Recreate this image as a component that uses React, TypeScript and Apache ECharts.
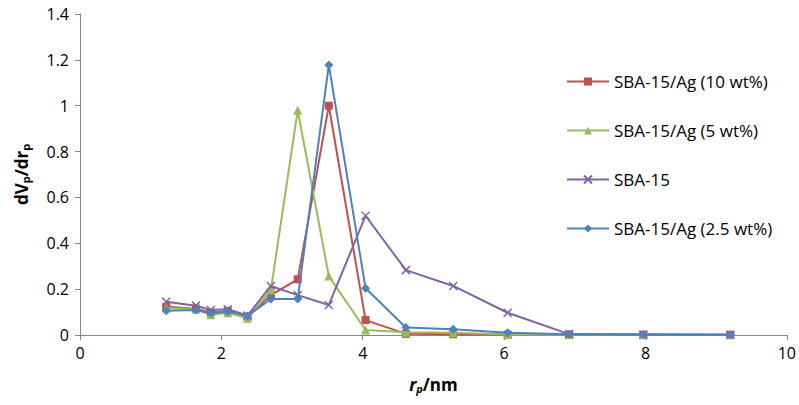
import React, { useEffect, useRef } from "react";
import * as echarts from "echarts";

const rp = [1.22, 1.64, 1.85, 2.09, 2.37, 2.70, 3.08, 3.52, 4.04, 4.61, 5.28, 6.05, 6.92, 7.97, 9.20];
const ag10 = [0.123, 0.115, 0.098, 0.105, 0.080, 0.174, 0.243, 1.0, 0.065, 0.005, 0.003, 0.002, 0.002, 0.001, 0.001];
const ag5 = [0.118, 0.112, 0.088, 0.097, 0.073, 0.196, 0.98, 0.257, 0.022, 0.012, 0.010, 0.002, 0.002, 0.001, 0.001];
const sba15 = [0.145, 0.128, 0.109, 0.112, 0.085, 0.214, 0.174, 0.131, 0.52, 0.283, 0.214, 0.097, 0.004, 0.002, 0.001];
const ag25 = [0.106, 0.109, 0.095, 0.103, 0.083, 0.157, 0.157, 1.178, 0.204, 0.033, 0.025, 0.010, 0.003, 0.002, 0.001];

const seriesNames = ["SBA-15/Ag (10 wt%)", "SBA-15/Ag (5 wt%)", "SBA-15", "SBA-15/Ag (2.5 wt%)"];
const seriesValues = [ag10, ag5, sba15, ag25];
const colors = ["#C0504D", "#9BBB59", "#8064A2", "#4F81BD"];
const symbols = ["rect", "triangle", "path://M0,0L10,10M10,0L0,10", "diamond"];
const symbolSizes = [8, 9, 8, 9];

const FONT = "'Open Sans', sans-serif";

export default function App() {
  const ref = useRef<HTMLDivElement>(null);
  useEffect(() => {
    if (!ref.current) return;
    const chart = echarts.init(ref.current, null, { renderer: "svg" });
    const series = seriesNames.map((name, i) => ({
      name,
      type: "line",
      data: rp.map((x, j) => [x, seriesValues[i][j]]),
      symbol: symbols[i],
      symbolSize: symbolSizes[i],
      showAllSymbol: true,
      lineStyle: { color: colors[i], width: 2 },
      itemStyle: i === 2
        ? { color: "rgba(0,0,0,0)", borderColor: colors[i], borderWidth: 1.5 }
        : { color: colors[i], borderColor: colors[i], borderWidth: 0 },
      z: 2 + i,
    }));
    chart.setOption({
      animation: false,
      backgroundColor: "#ffffff",
      textStyle: { fontFamily: FONT },
      grid: { left: 80, right: 11, top: 14, bottom: 70, containLabel: false },
      legend: {
        orient: "vertical",
        left: 566,
        top: 73,
        padding: 0,
        itemWidth: 42,
        itemHeight: 10,
        itemGap: 32,
        data: seriesNames,
        textStyle: { fontFamily: FONT, fontSize: 17, color: "#000", lineHeight: 17 },
      },
      xAxis: {
        type: "value",
        min: 0,
        max: 10,
        interval: 2,
        name: "{it|r}{sub|p}{b|/nm}",
        nameLocation: "middle",
        nameGap: 40,
        nameTextStyle: {
          rich: {
            it: { fontFamily: FONT, fontSize: 17, fontWeight: "bold", fontStyle: "italic", color: "#000" },
            sub: { fontFamily: FONT, fontSize: 11, fontWeight: "bold", fontStyle: "italic", color: "#000", padding: [8, 0, 0, 0] },
            b: { fontFamily: FONT, fontSize: 17, fontWeight: "bold", color: "#000" },
          },
        },
        axisLine: { show: true, lineStyle: { color: "#868686", width: 1 } },
        axisTick: { show: true, length: 5, lineStyle: { color: "#868686" } },
        axisLabel: { fontFamily: FONT, fontSize: 16, color: "#000", margin: 10 },
        splitLine: { show: false },
      },
      yAxis: {
        type: "value",
        min: 0,
        max: 1.4,
        interval: 0.2,
        name: "{b|dV}{sub|p}{b|/dr}{sub|p}",
        nameLocation: "middle",
        nameRotate: 90,
        nameGap: 49,
        nameTextStyle: {
          rich: {
            b: { fontFamily: FONT, fontSize: 17, fontWeight: "bold", color: "#000" },
            sub: { fontFamily: FONT, fontSize: 11, fontWeight: "bold", color: "#000", padding: [8, 0, 0, 0] },
          },
        },
        axisLine: { show: true, lineStyle: { color: "#868686", width: 1 } },
        axisTick: { show: true, length: 5, lineStyle: { color: "#868686" } },
        axisLabel: {
          fontFamily: FONT,
          fontSize: 16,
          color: "#000",
          margin: 11,
          formatter: (v: number) => String(Math.round(v * 10) / 10),
        },
        splitLine: { show: false },
      },
      series,
    });
    return () => chart.dispose();
  }, []);
  return <div ref={ref} style={{ width: 799, height: 405, position: "absolute", left: 0, top: 0 }} />;
}
